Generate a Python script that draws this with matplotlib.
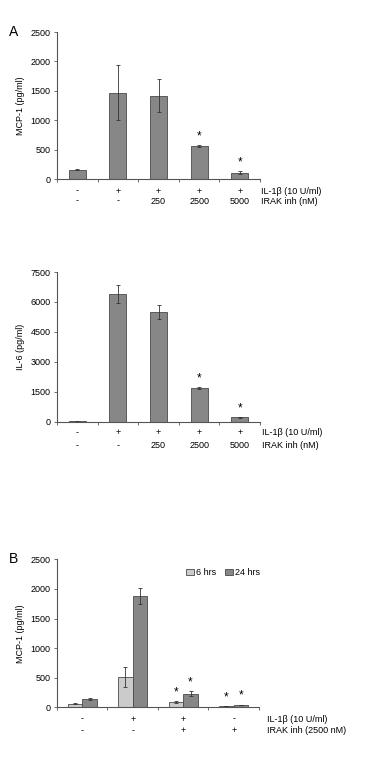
import matplotlib.pyplot as plt

plt.rcParams['font.family'] = ['Liberation Sans', 'DejaVu Sans']
plt.rcParams['font.size'] = 6.5

# ==============================
# Data
# ==============================
mcp_vals = [160, 1470, 1420, 560, 110]
mcp_err = [10, 470, 280, 20, 20]
mcp_star = [False, False, False, True, True]

il6_vals = [20, 6400, 5500, 1700, 220]
il6_err = [10, 450, 330, 50, 30]
il6_star = [False, False, False, True, True]

a_row1 = ["-", "+", "+", "+", "+"]
a_row2 = ["-", "-", "250", "2500", "5000"]

b_6h = [60, 510, 90, 20]
b_6h_err = [10, 170, 10, 5]
b_24h = [140, 1880, 230, 40]
b_24h_err = [15, 140, 40, 5]
b_star = [False, False, True, True]
b_row1 = ["-", "+", "+", "-"]
b_row2 = ["-", "-", "+", "+"]

DARK = "#878787"
LIGHT = "#cbcbcb"
EDGE = "#4a4a4a"

fig = plt.figure(figsize=(3.74, 7.68), dpi=100)


def style_axes(ax, n, ymax, step):
    ax.set_xlim(-0.5, n - 0.5)
    ax.set_ylim(0, ymax)
    ax.set_yticks(range(0, ymax + 1, step))
    ax.set_xticks([i - 0.5 for i in range(n + 1)])
    ax.set_xticklabels([])
    ax.spines["top"].set_visible(False)
    ax.spines["right"].set_visible(False)
    for s in ("left", "bottom"):
        ax.spines[s].set_color("#555555")
        ax.spines[s].set_linewidth(0.8)
    ax.tick_params(axis="both", length=2.5, width=0.6, color="#555555", pad=2)


def star(ax, x, top):
    ax.annotate("*", xy=(x, top), xytext=(0, 2), textcoords="offset points",
                ha="center", va="bottom", fontsize=8.5)


def row_labels(ax, row1, row2, name1, name2, y1, y2, xr):
    tr = ax.get_xaxis_transform()
    for i, (a, b) in enumerate(zip(row1, row2)):
        ax.text(i, y1, a, transform=tr, ha="center", va="center")
        ax.text(i, y2, b, transform=tr, ha="center", va="center")
    ax.text(xr, y1, name1, transform=ax.transAxes, ha="left", va="center")
    ax.text(xr, y2, name2, transform=ax.transAxes, ha="left", va="center")


# ==============================
# Panel A - MCP-1
# ==============================
ax1 = fig.add_axes([0.1524, 0.7669, 0.543, 0.1914])
x = range(len(mcp_vals))
ax1.bar(x, mcp_vals, width=0.42, color=DARK, edgecolor=EDGE, linewidth=0.6,
        yerr=mcp_err, error_kw=dict(elinewidth=0.6, capsize=1.5, capthick=0.6, ecolor="#333333"))
for i in x:
    if mcp_star[i]:
        star(ax1, i, mcp_vals[i] + mcp_err[i])
style_axes(ax1, 5, 2500, 500)
ax1.set_ylabel("MCP-1 (pg/ml)", labelpad=4)
row_labels(ax1, a_row1, a_row2, "IL-1\u03b2 (10 U/ml)", "IRAK inh (nM)", -0.082, -0.15, 1.005)
fig.text(0.025, 0.958, "A", fontsize=10, va="center")

# ==============================
# Panel A - IL-6
# ==============================
ax2 = fig.add_axes([0.1524, 0.4509, 0.543, 0.1949])
ax2.bar(x, il6_vals, width=0.42, color=DARK, edgecolor=EDGE, linewidth=0.6,
        yerr=il6_err, error_kw=dict(elinewidth=0.6, capsize=1.5, capthick=0.6, ecolor="#333333"))
for i in x:
    if il6_star[i]:
        star(ax2, i, il6_vals[i] + il6_err[i])
style_axes(ax2, 5, 7500, 1500)
ax2.set_ylabel("IL-6 (pg/ml)", labelpad=4)
row_labels(ax2, a_row1, a_row2, "IL-1\u03b2 (10 U/ml)", "IRAK inh (nM)", -0.074, -0.157, 1.01)

# ==============================
# Panel B - time course
# ==============================
ax3 = fig.add_axes([0.1524, 0.0790, 0.540, 0.1927])
xb = range(len(b_6h))
w = 0.29
ekw = dict(elinewidth=0.6, capsize=1.5, capthick=0.6, ecolor="#333333")
ax3.bar([i - w / 2 for i in xb], b_6h, width=w, color=LIGHT, edgecolor=EDGE,
        linewidth=0.6, yerr=b_6h_err, error_kw=ekw, label="6 hrs")
ax3.bar([i + w / 2 for i in xb], b_24h, width=w, color=DARK, edgecolor=EDGE,
        linewidth=0.6, yerr=b_24h_err, error_kw=ekw, label="24 hrs")
for i in xb:
    if b_star[i]:
        star(ax3, i - w / 2, b_6h[i] + b_6h_err[i])
        star(ax3, i + w / 2, b_24h[i] + b_24h_err[i])
style_axes(ax3, 4, 2500, 500)
ax3.set_ylabel("MCP-1 (pg/ml)", labelpad=4)
row_labels(ax3, b_row1, b_row2, "IL-1\u03b2 (10 U/ml)", "IRAK inh (2500 nM)", -0.079, -0.158, 1.04)
ax3.legend(loc="center left", bbox_to_anchor=(0.6, 0.91), ncol=2, frameon=False,
           handlelength=0.8, handleheight=0.8, handletextpad=0.3, columnspacing=1.0,
           fontsize=6.5)
fig.text(0.025, 0.272, "B", fontsize=10, va="center")

fig.savefig("out.png", dpi=100)
